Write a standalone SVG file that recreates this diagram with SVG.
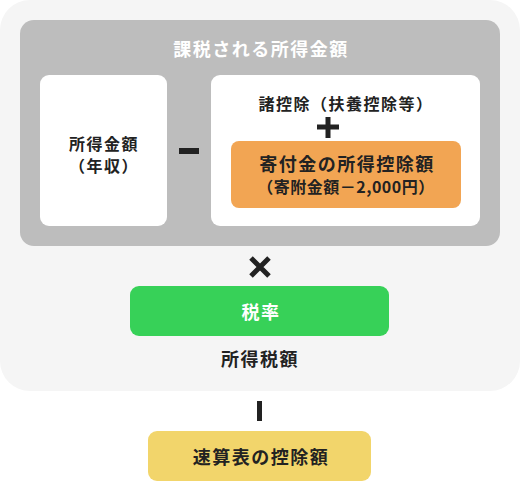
<svg xmlns="http://www.w3.org/2000/svg" width="520" height="481" viewBox="0 0 520 481">
<style>
text{font-family:"Noto Sans CJK JP","Noto Sans",sans-serif;font-weight:bold;text-anchor:middle;dominant-baseline:central;fill:#222}
.w{fill:#fff}
.t16{font-size:16px;letter-spacing:1.5px}
.t18{font-size:18px;letter-spacing:1.5px}
.op{fill:#222}
</style>
<g id="outer"><rect x="0" y="0" width="520" height="391" rx="30" fill="#f5f5f5"/></g>
<g id="taxable"><rect x="20" y="20" width="480" height="226" rx="14" fill="#bdbdbd"/>
<text class="w t18" x="261" y="48">課税される所得金額</text></g>
<g id="income"><rect x="40" y="75" width="127" height="151" rx="9" fill="#fff"/>
<text class="t16" x="104" y="143">所得金額</text>
<text class="t16" x="104" y="165">（年収）</text></g>
<g id="deductions"><rect x="211" y="75" width="269" height="151" rx="9" fill="#fff"/>
<text class="t16" x="346" y="103">諸控除（扶養控除等）</text></g>
<g id="donation"><rect x="231" y="141" width="230" height="67" rx="8" fill="#f2a553"/>
<text class="t18" x="347" y="163">寄付金の所得控除額</text>
<text class="t16" x="346" y="186" style="letter-spacing:0.5px">（寄附金額－2,000円）</text></g>
<g id="rate"><rect x="130" y="286" width="259" height="50" rx="9" fill="#37d158"/>
<text class="w t18" x="261" y="311">税率</text></g>
<g id="incometax"><text class="t18" x="260" y="358">所得税額</text></g>
<g id="quick"><rect x="148" y="431" width="223" height="50" rx="9" fill="#f2d56b"/>
<text class="t18" x="261" y="456">速算表の控除額</text></g>
<g id="connectors">
<rect class="op" x="179" y="148" width="20" height="6"/>
<path d="M317 127H339M328 117V138" stroke="#222" stroke-width="5"/>
<path d="M251 258L269 276M269 258L251 276" stroke="#222" stroke-width="5"/>
<rect class="op" x="257" y="401" width="5" height="20"/>
</g>
</svg>
